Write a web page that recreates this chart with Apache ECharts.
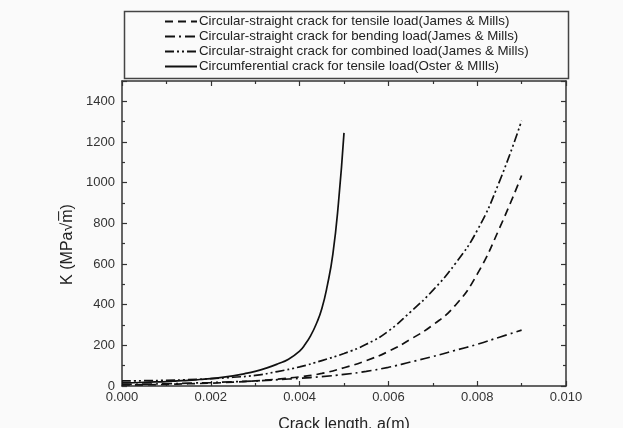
<!DOCTYPE html>
<html>
<head>
<meta charset="utf-8">
<script src="https://cdn.jsdelivr.net/npm/echarts@6/dist/echarts.min.js"></script>
<style>
  html, body { margin: 0; padding: 0; background: #fafafa; }
  #chart { width: 623px; height: 428px; }
</style>
</head>
<body>
<div id="chart"></div>
<script>
'use strict';

// crack length a (m), same grid for the three James & Mills curves
var xJames = [0, 0.0005, 0.001, 0.0015, 0.002, 0.0025, 0.003, 0.0035, 0.004, 0.0045,
              0.005, 0.0055, 0.006, 0.0065, 0.007, 0.0075, 0.008, 0.0085, 0.009];
var kTensile  = [5, 6, 8, 11, 14, 19, 25, 34, 45, 62, 90, 125, 170, 230, 300, 395, 550, 775, 1035];
var kBending  = [8, 9, 11, 14, 17, 21, 25, 31, 38, 46, 57, 72, 92, 118, 145, 175, 205, 240, 275];
var kCombined = [25, 26, 28, 31, 36, 43, 52, 71, 94, 125, 160, 205, 270, 365, 470, 600, 765, 1005, 1305];

// Oster & Mills circumferential crack
var xCircum = [0, 0.00025, 0.0005, 0.00075, 0.001, 0.00125, 0.0015, 0.00175, 0.002, 0.00225,
               0.0025, 0.00275, 0.003, 0.00325, 0.0035, 0.00375, 0.004, 0.004125, 0.00425,
               0.004375, 0.0045, 0.004625, 0.00475, 0.004875, 0.005];
var kCircum = [15, 16, 18, 20, 22, 25, 28, 32, 36, 42, 50, 60, 72, 88, 108, 132, 172, 205, 248,
               305, 380, 495, 650, 900, 1245];

var seriesNames = [
  'Circular-straight crack for tensile load(James & Mills)',
  'Circular-straight crack for bending load(James & Mills)',
  'Circular-straight crack for combined load(James & Mills)',
  'Circumferential crack for tensile load(Oster & MIlls)'
];

var xTicks = [0, 0.002, 0.004, 0.006, 0.008, 0.01];
var yTicks = [0, 200, 400, 600, 800, 1000, 1200, 1400];

function pairs(xs, ys) {
  return xs.map(function (x, i) { return [x, ys[i]]; });
}

var myChart = echarts.init(document.getElementById('chart'));

var fontFam = '"Liberation Sans", Arial, sans-serif';
var axisColor = '#333';

function xAxisOpt(pos, showLabel) {
  return {
    type: 'value', position: pos, min: 0, max: 0.01, interval: 0.002,
    axisLine: { show: true, onZero: false, lineStyle: { color: axisColor, width: 1.5 } },
    axisTick: { show: true, inside: true, length: 5, lineStyle: { color: axisColor, width: 1.2 } },
    minorTick: { show: true, splitNumber: 2, length: 3, lineStyle: { color: axisColor, width: 1.2 } },
    splitLine: { show: false },
    axisLabel: {
      show: showLabel, color: '#333', fontSize: 13, fontFamily: fontFam, margin: 5,
      formatter: function (v) { return xTicks.indexOf(v) >= 0 ? v.toFixed(3) : ''; }
    },
    name: showLabel ? 'Crack length, a(m)' : '',
    nameLocation: 'middle', nameGap: 31,
    nameTextStyle: { color: '#222', fontSize: 16, fontFamily: fontFam }
  };
}

function yAxisOpt(pos, showLabel) {
  return {
    type: 'value', position: pos, min: 0, max: 1500, interval: 200,
    axisLine: { show: true, onZero: false, lineStyle: { color: axisColor, width: 1.5 } },
    axisTick: { show: true, inside: true, length: 5, lineStyle: { color: axisColor, width: 1.2 } },
    minorTick: { show: true, splitNumber: 2, length: 3, lineStyle: { color: axisColor, width: 1.2 } },
    splitLine: { show: false },
    axisLabel: {
      show: showLabel, color: '#333', fontSize: 13, fontFamily: fontFam, margin: 7,
      formatter: function (v) { return yTicks.indexOf(v) >= 0 ? String(v) : ''; }
    },
    name: showLabel ? 'K (MPa\u221Am\u0305)' : '',
    nameLocation: 'middle', nameGap: 37, nameRotate: 90,
    nameTextStyle: { color: '#222', fontSize: 16, fontFamily: fontFam, padding: [0, 22, 0, 0] }
  };
}

function lineSeries(idx, data, dash) {
  return {
    name: seriesNames[idx], type: 'line', data: data,
    xAxisIndex: 0, yAxisIndex: 0,
    symbol: 'none', smooth: 0.5,
    lineStyle: { color: '#111', width: 1.7, type: dash },
    itemStyle: { color: '#111' },
    animation: false
  };
}

myChart.setOption({
  backgroundColor: '#fafafa',
  animation: false,
  grid: { left: 122, right: 57, top: 81, bottom: 42, outerBoundsMode: 'none', containLabel: false },
  graphic: [{
    type: 'rect', left: 122, top: 9,
    shape: { width: 444, height: 67 },
    style: { fill: 'none', stroke: '#444', lineWidth: 1.5 }
  }],
  legend: {
    orient: 'vertical', left: 164, top: 14, itemGap: 0, padding: 0,
    itemWidth: 32, itemHeight: 12,
    itemStyle: { opacity: 0 },
    textStyle: { color: '#222', fontSize: 13.3, lineHeight: 15, fontFamily: fontFam, padding: [0, 0, 0, -3] },
    data: seriesNames
  },
  xAxis: [xAxisOpt('bottom', true), xAxisOpt('top', false)],
  yAxis: [yAxisOpt('left', true), yAxisOpt('right', false)],
  series: [
    lineSeries(0, pairs(xJames, kTensile), [8, 5]),
    lineSeries(1, pairs(xJames, kBending), [10, 4, 2, 4]),
    lineSeries(2, pairs(xJames, kCombined), [9, 3, 2, 3, 2, 3]),
    lineSeries(3, pairs(xCircum, kCircum), 'solid')
  ]
});
</script>
</body>
</html>
